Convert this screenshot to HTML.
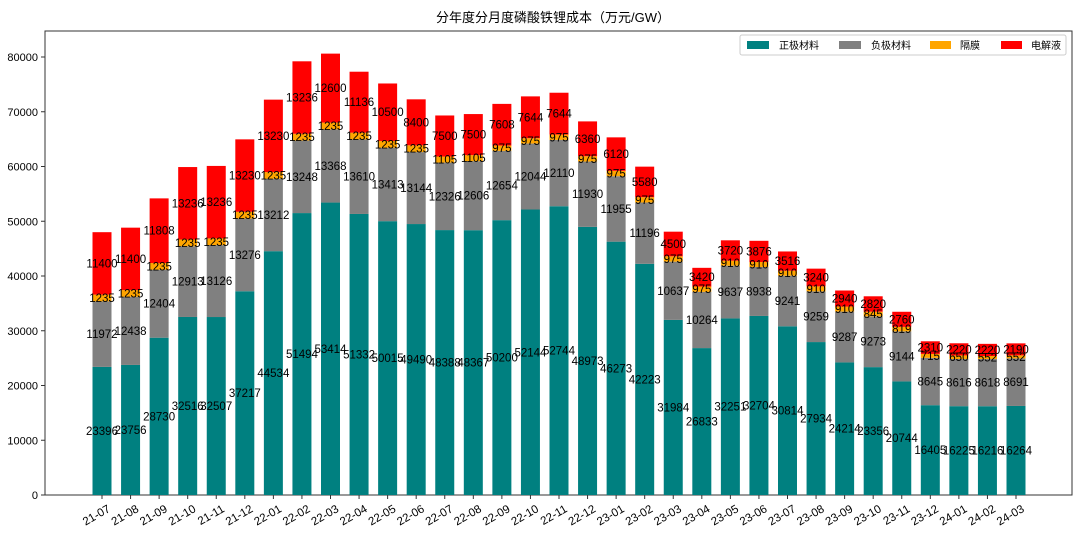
<!DOCTYPE html>
<html><head><meta charset="utf-8">
<style>
body{margin:0;background:#fff;}
svg{display:block;font-family:"Liberation Sans","Noto Sans CJK SC",sans-serif;}
</style></head>
<body>
<svg id="chart" width="1079" height="542">
<text x="553" y="22" text-anchor="middle" font-size="13">分年度分月度磷酸铁锂成本（万元/GW）</text>
<rect x="45" y="31" width="1027" height="464" fill="none" stroke="#333" stroke-width="1"/>
<g id="bars"></g><g id="labels"></g><g id="axes"></g>
<g>
<rect x="740" y="35" width="326" height="20" fill="#fff" stroke="#ccc" rx="2"/>
<rect x="747" y="41" width="22" height="8" fill="#008080"/>
<text x="779" y="49" font-size="10">正极材料</text>
<rect x="839" y="41" width="22" height="8" fill="#808080"/>
<text x="871" y="49" font-size="10">负极材料</text>
<rect x="930" y="41" width="21" height="8" fill="#FFA500"/>
<text x="960" y="49" font-size="10">隔膜</text>
<rect x="1001" y="41" width="21" height="8" fill="#FF0000"/>
<text x="1031" y="49" font-size="10">电解液</text>
</g>
</svg>
<script>
const categories=["21-07","21-08","21-09","21-10","21-11","21-12","22-01","22-02","22-03","22-04","22-05","22-06","22-07","22-08","22-09","22-10","22-11","22-12","23-01","23-02","23-03","23-04","23-05","23-06","23-07","23-08","23-09","23-10","23-11","23-12","24-01","24-02","24-03"];
const cathode=[23396,23756,28730,32516,32507,37217,44534,51494,53414,51332,50015,49490,48388,48367,50200,52144,52744,48973,46273,42223,31984,26833,32251,32704,30814,27934,24214,23356,20744,16405,16225,16216,16264];
const anode=[11972,12438,12404,12913,13126,13276,13212,13248,13368,13610,13413,13144,12326,12606,12654,12044,12110,11930,11955,11196,10637,10264,9637,8938,9241,9259,9287,9273,9144,8645,8616,8618,8691];
const separator=[1235,1235,1235,1235,1235,1235,1235,1235,1235,1235,1235,1235,1105,1105,975,975,975,975,975,975,975,975,910,910,910,910,910,845,819,715,650,552,552];
const electrolyte=[11400,11400,11808,13236,13236,13230,13230,13236,12600,11136,10500,8400,7500,7500,7608,7644,7644,6360,6120,5580,4500,3420,3720,3876,3516,3240,2940,2820,2760,2310,2220,2220,2190];
const yTicks=[0,10000,20000,30000,40000,50000,60000,70000,80000];
const NS="http://www.w3.org/2000/svg";
const x0=102,step=(1016-102)/32,bw=19;
function xs(i){return x0+i*step;}
function ys(v){return 495-v*(438/80000);}
const series=[[cathode,"#008080","cathode"],[anode,"#808080","anode"],[separator,"#FFA500","separator"],[electrolyte,"#FF0000","electrolyte"]];
const gb=document.getElementById("bars"),gl=document.getElementById("labels"),ga=document.getElementById("axes");
categories.forEach((c,i)=>{
  let base=0;
  series.forEach(([arr,col,nm])=>{
    const v=arr[i];
    const r=document.createElementNS(NS,"rect");
    r.setAttribute("x",xs(i)-bw/2);r.setAttribute("y",ys(base+v));
    r.setAttribute("width",bw);r.setAttribute("height",ys(base)-ys(base+v));
    r.setAttribute("fill",col);
    
    
    gb.appendChild(r);
    const t=document.createElementNS(NS,"text");
    t.setAttribute("x",xs(i));t.setAttribute("y",ys(base+v/2)+4);
    t.setAttribute("text-anchor","middle");t.setAttribute("font-size","11.5");
    t.textContent=v;
    
    
    gl.appendChild(t);
    base+=v;
  });
  const tk=document.createElementNS(NS,"line");
  tk.setAttribute("x1",xs(i));tk.setAttribute("x2",xs(i));tk.setAttribute("y1",495);tk.setAttribute("y2",499);tk.setAttribute("stroke","#333");
  
  
  ga.appendChild(tk);
  const lt=document.createElementNS(NS,"text");
  lt.setAttribute("transform","translate("+(xs(i)+9)+",511) rotate(-30)");
  lt.setAttribute("text-anchor","end");lt.setAttribute("font-size","11.5");
  lt.textContent=c;
  
  
  ga.appendChild(lt);
});
yTicks.forEach(v=>{
  const tk=document.createElementNS(NS,"line");
  tk.setAttribute("x1",41);tk.setAttribute("x2",45);tk.setAttribute("y1",ys(v));tk.setAttribute("y2",ys(v));tk.setAttribute("stroke","#333");
  
  
  ga.appendChild(tk);
  const t=document.createElementNS(NS,"text");
  t.setAttribute("x",38);t.setAttribute("y",ys(v)+4);t.setAttribute("text-anchor","end");t.setAttribute("font-size","11");
  t.textContent=v;
  
  
  ga.appendChild(t);
});
</script>
</body></html>
